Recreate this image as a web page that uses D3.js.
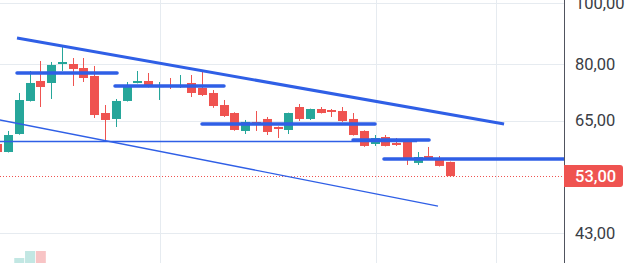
<!DOCTYPE html>
<html>
<head>
  <style type="text/css">
    body { margin: 0; background: #fff; }
    .price-label { font: 16.5px Roboto, sans-serif; fill: #3a3d45; }
    .last-label { font: 500 16.5px Roboto, sans-serif; fill: #fff; }
  </style>
</head>
<body>
  <div class="svg_container"></div>

  <script src="https://cdnjs.cloudflare.com/ajax/libs/d3/7.8.5/d3.min.js"></script>
  <script type="text/javascript">
    // candles, one per bar index
    var open  = [59.63, 57.90, 61.86, 69.84, 75.16, 74.61, 80.00, 80.00, 78.83, 76.55, 66.82, 65.37, 69.84, 74.61, 75.16, 73.60, 74.06, 73.60, 74.61, 73.25, 71.92, 68.81, 66.82, 62.55, 64.66, 65.37, 63.47, 62.78, 68.31, 65.37, 67.81, 67.56, 67.31, 65.37, 62.55, 59.63, 61.18, 59.85, 60.29, 55.62, 57.06, 56.64, 55.82];
    var high  = [60.00, 62.55, 71.92, 77.97, 80.89, 80.59, 85.15, 81.78, 81.78, 79.42, 68.81, 70.35, 74.88, 77.97, 77.40, 74.88, 75.99, 76.83, 76.83, 77.97, 72.70, 70.09, 67.00, 65.13, 67.31, 65.85, 63.60, 66.90, 69.07, 67.90, 68.31, 67.81, 68.31, 66.82, 62.70, 61.63, 61.63, 60.96, 60.40, 57.90, 58.98, 57.06, 55.90];
    var low   = [57.60, 57.80, 61.70, 69.70, 68.31, 70.35, 77.97, 73.79, 74.88, 65.61, 60.20, 63.47, 69.70, 74.50, 73.40, 70.09, 72.98, 73.25, 70.86, 71.12, 68.10, 65.85, 62.60, 61.86, 62.55, 61.63, 60.96, 61.86, 64.89, 65.13, 66.70, 65.85, 64.66, 61.50, 59.00, 59.20, 59.10, 59.20, 55.21, 55.21, 56.50, 54.90, 52.95];
    var close = [57.90, 61.63, 70.09, 74.61, 73.52, 79.71, 80.59, 78.55, 75.99, 66.33, 65.13, 69.84, 74.06, 75.16, 73.52, 73.90, 73.52, 73.90, 71.92, 71.39, 68.56, 66.09, 62.78, 64.66, 63.94, 62.32, 63.01, 66.82, 65.37, 67.81, 66.82, 67.07, 64.89, 61.63, 59.20, 60.96, 59.20, 59.41, 56.23, 56.85, 56.64, 55.01, 53.00];
    var volume = [4, 5, 12, 19, 19, 6, 5, 4, 4, 6, 5, 4, 4, 3, 3, 3, 3, 3, 4, 4, 4, 4, 5, 3, 3, 4, 3, 4, 4, 3, 3, 3, 4, 5, 5, 3, 3, 3, 5, 4, 3, 3, 4];

    var priceTicks = [100, 80, 65, 43];
    var timeGrid = [15.05, 35.08, 46.22];
    var lastPrice = 53.00;

    // drawings: [index1, price1, index2, price2]
    var trendLines = [
      [1.79, 88.0, 46.97, 64.18]
    ];
    var levelLines = [
      [1.79, 11.07, 77.40],
      [10.88, 20.99, 73.79],
      [18.95, 35.0, 64.18],
      [32.96, 40.01, 60.51],
      [35.83, 60, 56.43]
    ];
    var thinLines = [
      [-1, 60.18, 38.9, 60.18],
      [-1, 65.75, 40.84, 47.48]
    ];

    var width = 644, height = 263, plotW = 564;
    var green = "#26a69a", red = "#ef5350", blue = "#2f5fe6";

    var x = d3.scaleLinear().domain([0, 42]).range([-2.3, 450.5]);
    var y = d3.scaleLog().domain([43, 80]).range([233, 64]);
    var v = d3.scaleLinear().domain([0, 100]).range([270, 170]);
    var fmt = function(d) { return d3.format(".2f")(d).replace(".", ","); };

    var svg = d3.select(".svg_container").append("svg")
      .attr("width", width)
      .attr("height", height);

    svg.append("clipPath").attr("id", "plot")
      .append("rect").attr("width", plotW).attr("height", height);

    var plot = svg.append("g").attr("clip-path", "url(#plot)");

    // grid
    plot.selectAll(".hgrid").data(priceTicks).enter().append("line")
      .attr("x1", 0).attr("x2", plotW)
      .attr("y1", function(d) { return Math.round(y(d)) + 0.5; })
      .attr("y2", function(d) { return Math.round(y(d)) + 0.5; })
      .attr("stroke", "#e6ebf0");
    plot.selectAll(".vgrid").data(timeGrid).enter().append("line")
      .attr("y1", 0).attr("y2", height)
      .attr("x1", function(d) { return Math.round(x(d)) + 0.5; })
      .attr("x2", function(d) { return Math.round(x(d)) + 0.5; })
      .attr("stroke", "#e6ebf0");

    var idx = d3.range(open.length);

    // volume
    plot.selectAll(".vol").data(idx).enter().append("rect")
      .attr("x", function(i) { return x(i) - 5; })
      .attr("width", 10)
      .attr("y", function(i) { return v(volume[i]); })
      .attr("height", function(i) { return v(0) - v(volume[i]); })
      .attr("fill", function(i) { return close[i] >= open[i] ? "#c2e7e3" : "#f8c4c5"; });

    // last price dotted line
    plot.append("line")
      .attr("x1", 0).attr("x2", plotW)
      .attr("y1", Math.round(y(lastPrice)) + 0.5).attr("y2", Math.round(y(lastPrice)) + 0.5)
      .attr("stroke", red).attr("stroke-dasharray", "1,2");

    // candles
    var c = plot.selectAll(".candle").data(idx).enter().append("g");
    c.append("line")
      .attr("x1", function(i) { return Math.floor(x(i)) + 0.5; })
      .attr("x2", function(i) { return Math.floor(x(i)) + 0.5; })
      .attr("y1", function(i) { return y(high[i]); })
      .attr("y2", function(i) { return y(low[i]); })
      .attr("stroke", function(i) { return close[i] >= open[i] ? green : red; });
    c.append("rect")
      .attr("x", function(i) { return Math.floor(x(i)) - 4; })
      .attr("width", 9)
      .attr("y", function(i) { return y(Math.max(open[i], close[i])); })
      .attr("height", function(i) { return Math.max(1.5, Math.abs(y(open[i]) - y(close[i]))); })
      .attr("fill", function(i) { return close[i] >= open[i] ? green : red; });

    // drawings
    plot.selectAll(".trend").data(trendLines).enter().append("line")
      .attr("x1", function(d) { return x(d[0]); }).attr("y1", function(d) { return y(d[1]); })
      .attr("x2", function(d) { return x(d[2]); }).attr("y2", function(d) { return y(d[3]); })
      .attr("stroke", blue).attr("stroke-width", 3);
    plot.selectAll(".level").data(levelLines).enter().append("line")
      .attr("x1", function(d) { return x(d[0]); }).attr("x2", function(d) { return x(d[1]); })
      .attr("y1", function(d) { return y(d[2]); }).attr("y2", function(d) { return y(d[2]); })
      .attr("stroke", blue).attr("stroke-width", 3.5).attr("stroke-linecap", "round");
    plot.selectAll(".thin").data(thinLines).enter().append("line")
      .attr("x1", function(d) { return x(d[0]); }).attr("y1", function(d) { return y(d[1]); })
      .attr("x2", function(d) { return x(d[2]); }).attr("y2", function(d) { return y(d[3]); })
      .attr("stroke", blue).attr("stroke-width", 1.3);

    // price scale
    svg.append("line")
      .attr("x1", plotW + 0.5).attr("x2", plotW + 0.5)
      .attr("y1", 0).attr("y2", height)
      .attr("stroke", "#50535e");

    svg.selectAll(".price-label").data(priceTicks).enter().append("text")
      .attr("class", "price-label")
      .attr("x", plotW + 11)
      .attr("y", function(d) { return y(d); })
      .attr("dy", "0.35em")
      .text(fmt);

    var ly = y(lastPrice);
    svg.append("path")
      .attr("d", "M" + plotW + "," + (ly - 11) + " h56 a3,3 0 0 1 3,3 v16 a3,3 0 0 1 -3,3 h-56 z")
      .attr("fill", red);
    svg.append("text")
      .attr("class", "last-label")
      .attr("x", plotW + 11)
      .attr("y", ly)
      .attr("dy", "0.35em")
      .text(fmt(lastPrice));
  </script>
</body>
</html>
